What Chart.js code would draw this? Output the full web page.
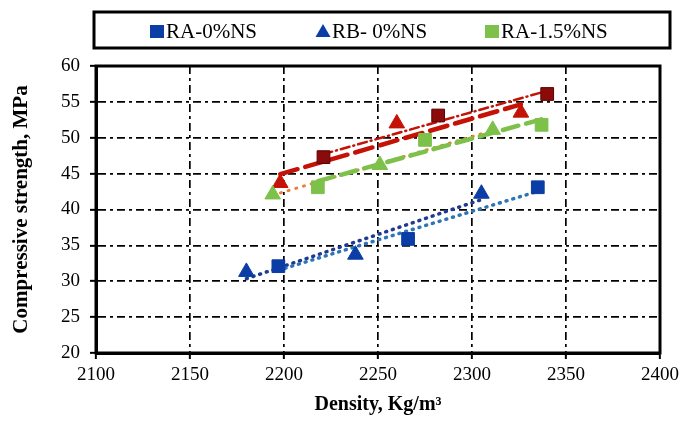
<!DOCTYPE html>
<html>
<head>
<meta charset="utf-8">
<script src="https://cdn.jsdelivr.net/npm/chart.js@4/dist/chart.umd.min.js"></script>
<style>
  body { margin: 0; background: #fff; }
  canvas { display: block; }
</style>
</head>
<body>
<canvas id="chart_density" width="685" height="422"></canvas>
<script>
/* ------------------
  data
-------------------*/
var xTicks = [2100, 2150, 2200, 2250, 2300, 2350, 2400];
var yTicks = [20, 25, 30, 35, 40, 45, 50, 55, 60];

var seriesNames = ['RA-0%NS', 'RB- 0%NS', 'RA-1.5%NS', 'RB-1.5%NS', 'RA-3%NS', 'RB-3%NS'];

var ra0_x = [2197, 2266, 2335];
var ra0_y = [32.1, 35.9, 43.1];
var rb0_x = [2180, 2238, 2305];
var rb0_y = [31.3, 33.7, 42.2];
var ra15_x = [2218, 2275, 2337];
var ra15_y = [43.1, 49.7, 51.8];
var rb15_x = [2194, 2251, 2311];
var rb15_y = [42.1, 46.2, 51.1];
var ra3_x = [2221, 2282, 2340];
var ra3_y = [47.3, 53.1, 56.1];
var rb3_x = [2198, 2260, 2326];
var rb3_y = [43.7, 52.0, 53.5];

var serif = "'Liberation Serif', 'DejaVu Serif', serif";

function points(xs, ys) {
  return xs.map(function (x, i) { return {x: x, y: ys[i]}; });
}

// linear trendline (least squares) from first to last x, like the spreadsheet does
function trend(xs, ys) {
  var n = xs.length, mx = 0, my = 0, sxy = 0, sxx = 0;
  for (var i = 0; i < n; i++) { mx += xs[i] / n; my += ys[i] / n; }
  for (var j = 0; j < n; j++) {
    sxy += (xs[j] - mx) * (ys[j] - my);
    sxx += (xs[j] - mx) * (xs[j] - mx);
  }
  var b = sxy / sxx;
  var lo = Math.min.apply(null, xs), hi = Math.max.apply(null, xs);
  return [{x: lo, y: my + b * (lo - mx)}, {x: hi, y: my + b * (hi - mx)}];
}

function markers(label, xs, ys, style, color, border) {
  return {
    type: 'scatter', label: label, order: 0,
    data: points(xs, ys),
    pointStyle: style, pointRadius: 9, pointHoverRadius: 9,
    backgroundColor: color, borderColor: border || color, borderWidth: 1
  };
}

function trendLine(xs, ys, color, dash, width) {
  return {
    type: 'line', label: '', order: 1,
    data: trend(xs, ys),
    borderColor: color, borderWidth: width, borderDash: dash,
    borderCapStyle: 'round', pointRadius: 0, fill: false
  };
}

/* ------------------
  frame round the plot + boxed legend
-------------------*/
var framePlugin = {
  id: 'framePlugin',
  afterDraw: function (chart) {
    var ctx = chart.ctx, a = chart.chartArea;
    ctx.save();
    ctx.strokeStyle = '#000';
    ctx.lineWidth = 3;
    ctx.strokeRect(a.left, a.top, a.right - a.left, a.bottom - a.top);
    ctx.strokeRect(94, 12, 576, 36);

    var items = [
      {ds: chart.data.datasets[0], mx: 157, tx: 166},
      {ds: chart.data.datasets[1], mx: 323, tx: 332},
      {ds: chart.data.datasets[2], mx: 492, tx: 501}
    ];
    var cy = 31;
    items.forEach(function (it) {
      ctx.fillStyle = it.ds.backgroundColor;
      ctx.beginPath();
      if (it.ds.pointStyle === 'triangle') {
        ctx.moveTo(it.mx, cy - 7);
        ctx.lineTo(it.mx + 7.5, cy + 6);
        ctx.lineTo(it.mx - 7.5, cy + 6);
        ctx.closePath();
      } else {
        ctx.rect(it.mx - 7, cy - 6, 14, 13);
      }
      ctx.fill();
      ctx.fillStyle = '#000';
      ctx.font = '21px ' + serif;
      ctx.textBaseline = 'middle';
      ctx.textAlign = 'left';
      ctx.fillText(it.ds.label, it.tx, cy + 1);
    });
    ctx.restore();
  }
};

var chart_density = new Chart(document.getElementById('chart_density'), {
  data: {
    datasets: [
      markers(seriesNames[0], ra0_x, ra0_y, 'rect', '#0B3DA6'),
      markers(seriesNames[1], rb0_x, rb0_y, 'triangle', '#0B3DA6'),
      markers(seriesNames[2], ra15_x, ra15_y, 'rect', '#7DC14A'),
      markers(seriesNames[3], rb15_x, rb15_y, 'triangle', '#7DC14A'),
      markers(seriesNames[4], ra3_x, ra3_y, 'rect', '#8B0A0A', '#5A0000'),
      markers(seriesNames[5], rb3_x, rb3_y, 'triangle', '#C41206'),
      trendLine(ra0_x, ra0_y, '#2E75B6', [1, 6], 3.5),
      trendLine(rb0_x, rb0_y, '#1F3A93', [1, 6], 3.5),
      trendLine(ra15_x, ra15_y, '#7DC14A', [16, 8], 4.5),
      trendLine(rb15_x, rb15_y, '#ED7D31', [1, 7], 3),
      trendLine(ra3_x, ra3_y, '#C41206', [9, 4, 1, 4], 2.5),
      trendLine(rb3_x, rb3_y, '#C41206', [18, 8], 4.5)
    ]
  },
  plugins: [framePlugin],
  options: {
    responsive: false,
    animation: false,
    devicePixelRatio: 1,
    layout: { padding: { top: 66, right: 25, left: 0, bottom: 0 } },
    plugins: {
      legend: { display: false },
      tooltip: { enabled: false }
    },
    scales: {
      x: {
        type: 'linear',
        min: xTicks[0], max: xTicks[xTicks.length - 1],
        afterBuildTicks: function (s) { s.ticks = xTicks.map(function (v) { return {value: v}; }); },
        afterFit: function (s) { s.height = 69; },
        grid: {
          color: '#000', lineWidth: 1.7, tickLength: 6,
          tickColor: '#000', tickWidth: 2
        },
        border: { display: true, color: '#000', width: 3, dash: [8, 4, 3, 4] },
        ticks: {
          color: '#000', padding: 5, maxRotation: 0, font: { family: serif, size: 19 },
          callback: function (v) { return String(v); }
        },
        title: {
          display: true, text: 'Density, Kg/m³', color: '#000',
          font: { family: serif, size: 20, weight: 'bold' },
          padding: { top: 0, bottom: 5 }
        }
      },
      y: {
        type: 'linear',
        min: yTicks[0], max: yTicks[yTicks.length - 1],
        afterBuildTicks: function (s) { s.ticks = yTicks.map(function (v) { return {value: v}; }); },
        afterFit: function (s) { s.width = 96; },
        grid: {
          color: '#000', lineWidth: 1.7, tickLength: 6,
          tickColor: '#000', tickWidth: 2
        },
        border: { display: true, color: '#000', width: 3, dash: [8, 4, 3, 4] },
        ticks: {
          color: '#000', padding: 10, font: { family: serif, size: 19 },
          callback: function (v) { return String(v); }
        },
        title: {
          display: true, text: 'Compressive strength, MPa', color: '#000',
          font: { family: serif, size: 21, weight: 'bold' },
          padding: { top: 9, bottom: 0 }
        }
      }
    }
  }
});
</script>
</body>
</html>
